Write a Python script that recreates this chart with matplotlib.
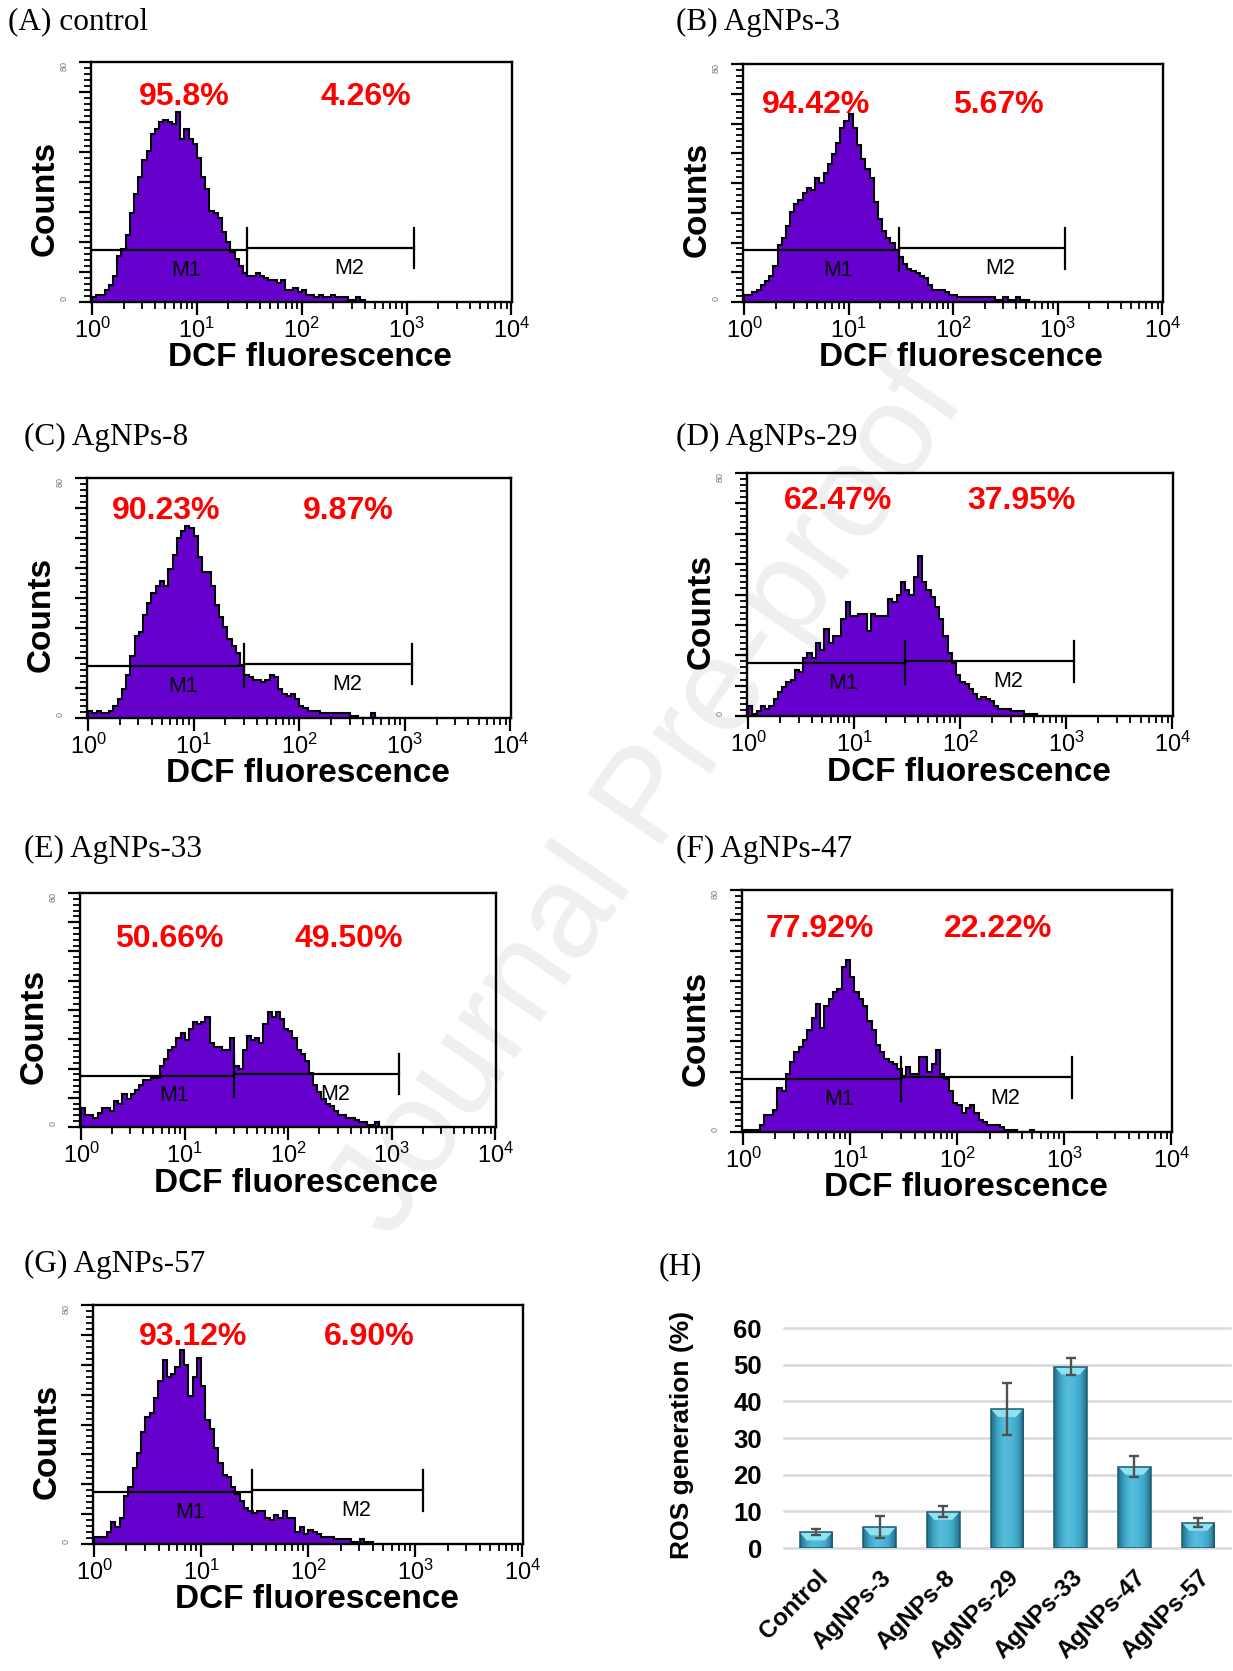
import numpy as np
import matplotlib
matplotlib.use('Agg')
import matplotlib.pyplot as plt
from matplotlib.ticker import MultipleLocator, AutoMinorLocator, LogLocator, NullFormatter
from matplotlib.colors import LinearSegmentedColormap
from matplotlib.patches import Polygon

plt.rcParams['font.family'] = ['Liberation Sans', 'DejaVu Sans']
plt.rcParams['mathtext.fontset'] = 'custom'
plt.rcParams['mathtext.rm'] = 'Liberation Sans'
plt.rcParams['mathtext.it'] = 'Liberation Sans:italic'
plt.rcParams['mathtext.bf'] = 'Liberation Sans:bold'

# ---------------- data ----------------
BIN_W = 0.04  # histogram channel width in log10 decades

HIST_A = [2, 3, 3, 5, 7, 11, 19, 22, 28, 37, 45, 52, 59, 63, 70, 72, 75, 76, 75, 74,
          79, 68, 72, 68, 66, 60, 52, 47, 38, 37, 35, 29, 25, 21, 18, 15, 12, 11, 11, 12,
          11, 10, 9, 9, 8, 9, 5, 5, 6, 4, 5, 3, 3, 2, 3, 2, 2, 3, 2, 2,
          2, 1, 1, 2, 1]
HIST_B = [3, 3, 4, 5, 7, 9, 11, 15, 24, 27, 32, 38, 41, 43, 46, 48, 47, 52, 50, 54,
          58, 62, 67, 73, 76, 79, 73, 66, 60, 56, 52, 42, 35, 30, 27, 25, 22, 19, 16, 14,
          13, 12, 11, 10, 7, 5, 5, 5, 4, 3, 3, 2, 2, 2, 2, 2, 2, 2, 2, 2,
          1, 1, 2, 1, 1, 2, 1, 1]
HIST_C = [3, 2, 3, 2, 2, 3, 5, 8, 12, 18, 26, 34, 36, 43, 48, 52, 55, 57, 55, 62,
          68, 75, 78, 80, 79, 76, 67, 61, 61, 55, 47, 42, 38, 33, 30, 27, 22, 18, 17, 16,
          16, 15, 16, 18, 17, 12, 10, 9, 10, 8, 5, 4, 3, 3, 3, 2, 2, 2, 2, 2,
          2, 2, 1, 1, 0, 0, 0, 2]
HIST_D = [4, 1, 2, 4, 3, 4, 7, 10, 12, 14, 15, 19, 18, 24, 26, 24, 30, 27, 36, 30,
          33, 33, 40, 47, 41, 41, 42, 42, 35, 42, 41, 41, 41, 48, 47, 50, 55, 52, 50, 57,
          66, 55, 52, 49, 45, 40, 33, 26, 22, 17, 14, 13, 11, 9, 7, 8, 7, 6, 4, 3,
          3, 3, 2, 2, 2, 1, 1, 1]
HIST_E = [8, 5, 5, 4, 6, 8, 8, 7, 11, 10, 14, 12, 14, 16, 18, 20, 20, 21, 21, 26,
          29, 33, 34, 38, 40, 37, 42, 45, 44, 45, 47, 36, 34, 34, 33, 33, 38, 26, 25, 33,
          39, 37, 38, 36, 44, 49, 47, 49, 46, 42, 41, 38, 33, 31, 28, 23, 18, 15, 12, 10,
          9, 7, 5, 5, 4, 4, 3, 2, 2, 1, 1, 2]
HIST_F = [1, 1, 1, 1, 3, 7, 7, 9, 18, 17, 24, 29, 33, 35, 38, 42, 47, 53, 43, 52,
          55, 58, 59, 68, 71, 64, 58, 55, 52, 46, 42, 36, 33, 30, 29, 28, 26, 23, 27, 24,
          24, 31, 31, 25, 28, 34, 24, 22, 17, 12, 11, 8, 10, 11, 8, 5, 4, 3, 3, 3,
          2, 1, 1, 1, 0, 0, 0, 1]
HIST_G = [3, 3, 3, 5, 9, 7, 11, 20, 24, 32, 38, 47, 53, 55, 61, 68, 77, 70, 71, 74,
          81, 75, 62, 70, 78, 66, 52, 48, 40, 34, 29, 28, 24, 21, 18, 15, 14, 13, 14, 14,
          11, 10, 12, 11, 14, 11, 11, 5, 7, 4, 6, 5, 4, 3, 3, 3, 2, 2, 2, 2,
          1, 1, 2, 1, 1]

PANEL_TITLES = ['(A) control', '(B) AgNPs-3', '(C) AgNPs-8', '(D) AgNPs-29',
                '(E) AgNPs-33', '(F) AgNPs-47', '(G) AgNPs-57']
PCT_M1 = ['95.8%', '94.42%', '90.23%', '62.47%', '50.66%', '77.92%', '93.12%']
PCT_M2 = ['4.26%', '5.67%', '9.87%', '37.95%', '49.50%', '22.22%', '6.90%']

GATE_SPLIT = 30.0     # M1 / M2 boundary (fluorescence units)
GATE_END = 1175.0     # end of M2

ROS_LABELS = ['Control', 'AgNPs-3', 'AgNPs-8', 'AgNPs-29', 'AgNPs-33', 'AgNPs-47', 'AgNPs-57']
ROS_VALUES = [4.26, 5.67, 9.87, 37.95, 49.50, 22.22, 6.90]
ROS_ERR = [0.8, 3.05, 1.5, 7.15, 2.4, 2.9, 1.2]

# ---------------- layout ----------------
W, H = 1233, 1671
fig = plt.figure(figsize=(W / 100, H / 100), dpi=100)
fig.patch.set_facecolor('white')

def fbox(l, t, r, b):
    return [l / W, 1 - b / H, (r - l) / W, (b - t) / H]

PURPLE = '#6600cc'

# watermark
fig.text(650 / W, 1 - 800 / H, 'Journal Pre-proof', rotation=55.6, fontsize=95,
         color='#efefef', ha='center', va='center', zorder=-10,
         rotation_mode='anchor')

BOXES = [(91, 62, 512, 302), (743, 64, 1163, 302), (87, 478, 511, 718),
         (747, 473, 1173, 716), (80, 893, 496, 1127), (742, 890, 1172, 1132),
         (93, 1305, 523, 1544)]
TITLE_POS = [(8, 22), (676, 22), (24, 437), (676, 437), (24, 849), (676, 849), (24, 1264)]
PCT_POS = [((0.876, 2.61), 85.6), ((0.69, 2.43), 82.7), ((0.74, 2.46), 86.3),
           ((0.85, 2.58), 88.5), ((0.85, 2.58), 80.5), ((0.72, 2.38), 84.0),
           ((0.92, 2.57), 86.7)]
HISTS = [HIST_A, HIST_B, HIST_C, HIST_D, HIST_E, HIST_F, HIST_G]

for i, vals in enumerate(HISTS):
    l, t, r, b = BOXES[i]
    ax = fig.add_axes(fbox(l, t, r, b))
    ax.set_facecolor('none')
    edges = 10 ** (BIN_W * np.arange(len(vals) + 1))
    ax.stairs(vals, edges, fill=True, color=PURPLE, lw=0, zorder=2)
    ax.stairs(vals, edges, color='black', lw=1.5, zorder=3)
    ax.set_xscale('log')
    ax.set_xlim(10 ** -0.01, 10 ** 4.005)
    ax.set_ylim(0, 100)
    for s in ax.spines.values():
        s.set_linewidth(1.7)
    ax.set_xticks([1, 10, 100, 1000, 10000])
    ax.set_xticklabels([r'$10^{0}$', r'$10^{1}$', r'$10^{2}$', r'$10^{3}$', r'$10^{4}$'])
    ax.xaxis.set_minor_locator(LogLocator(base=10, subs=np.arange(2, 10), numticks=20))
    ax.xaxis.set_minor_formatter(NullFormatter())
    ax.yaxis.set_major_locator(MultipleLocator(12.5))
    ax.yaxis.set_minor_locator(AutoMinorLocator(5))
    ax.tick_params(axis='both', which='major', direction='out', length=9, width=1.6,
                   labelsize=17, pad=2)
    ax.tick_params(axis='both', which='minor', direction='out', length=5, width=1.3)
    ax.tick_params(axis='y', labelleft=False)

    # gates
    y1, y2 = 21.7, 22.6
    ax.plot([10 ** -0.01, GATE_SPLIT], [y1, y1], color='black', lw=1.6, zorder=4)
    ax.plot([GATE_SPLIT, GATE_END], [y2, y2], color='black', lw=1.6, zorder=4)
    ax.plot([GATE_SPLIT, GATE_SPLIT], [13, 31], color='black', lw=1.6, zorder=4)
    ax.plot([GATE_END, GATE_END], [14, 31], color='black', lw=1.6, zorder=4)
    ax.text(10 ** 0.9, 13.3, 'M1', fontsize=15.5, ha='center', va='center', zorder=5)
    ax.text(10 ** 2.45, 14.0, 'M2', fontsize=15.5, ha='center', va='center', zorder=5)

    # percentages
    (xl, xr), yp = PCT_POS[i]
    ax.text(10 ** xl, yp, PCT_M1[i], color='#ff0000', fontsize=23, fontweight='bold',
            ha='center', va='center', zorder=6)
    ax.text(10 ** xr, yp, PCT_M2[i], color='#ff0000', fontsize=23, fontweight='bold',
            ha='center', va='center', zorder=6)

    # tiny y tick labels
    fig.text((l - 27) / W, 1 - (t + 4) / H, '80', rotation=90, fontsize=6.5,
             color='#777777', ha='center', va='center')
    fig.text((l - 27) / W, 1 - (b - 3) / H, '0', rotation=90, fontsize=6.5,
             color='#777777', ha='center', va='center')

    # axis labels
    fig.text((l - 46) / W, 1 - (b - 0.43 * (b - t)) / H, 'Counts', rotation=90,
             fontsize=24, fontweight='bold', ha='center', va='center')
    fig.text((l + 0.52 * (r - l)) / W, 1 - (b + 56) / H, 'DCF fluorescence',
             fontsize=24, fontweight='bold', ha='center', va='center')

    # panel title
    tx, ty = TITLE_POS[i]
    fig.text(tx / W, 1 - ty / H, PANEL_TITLES[i], fontsize=22.5,
             family=['Liberation Serif', 'DejaVu Serif'], ha='left', va='center')

# ---------------- panel H ----------------
fig.text(659 / W, 1 - 1267 / H, '(H)', fontsize=22.5,
         family=['Liberation Serif', 'DejaVu Serif'], ha='left', va='center')
axh = fig.add_axes(fbox(784, 1328, 1230, 1548))
axh.set_facecolor('none')
x = np.arange(len(ROS_LABELS))
bars = axh.bar(x, ROS_VALUES, width=0.51, color='#4ab3d3', lw=0, zorder=3)
cmap = LinearSegmentedColormap.from_list(
    'bev', ['#23708a', '#3fa6c6', '#55bddc', '#4fb8d8', '#3fa6c6', '#23708a'])
grad = np.linspace(0, 1, 64).reshape(1, -1)
for p in bars:
    x0, w, h = p.get_x(), p.get_width(), p.get_height()
    im = axh.imshow(grad, extent=[x0, x0 + w, 0, h], aspect='auto', cmap=cmap,
                    zorder=3.1, interpolation='bilinear')
    im.set_clip_path(p)
    bev = 2.2
    axh.add_patch(Polygon([[x0, h], [x0 + w, h], [x0 + w * 0.78, h - bev],
                           [x0 + w * 0.22, h - bev]], closed=True,
                          facecolor='#8fe1f3', edgecolor='none', zorder=3.2))
axh.bar(x, ROS_VALUES, width=0.51, fill=False, edgecolor='#1b5b70', lw=1.1, zorder=3.3)
axh.errorbar(x, ROS_VALUES, yerr=ROS_ERR, fmt='none', ecolor='#505050', elinewidth=1.7,
             capsize=3.4, capthick=1.7, zorder=4)
axh.set_ylim(0, 60)
axh.set_xlim(-0.5, 6.5)
yt = np.arange(0, 61, 10)
for v in yt:
    axh.axhline(v, color='#d9d9d9', lw=1.8, zorder=1, clip_on=False)
axh.set_yticks(yt)
axh.set_yticklabels([str(v) for v in yt], fontsize=18.5, fontweight='bold')
axh.set_xticks(x)
axh.set_xticklabels(ROS_LABELS, fontsize=17.5, fontweight='bold', rotation=45,
                    ha='right', rotation_mode='anchor')
axh.tick_params(axis='y', length=0, pad=16)
axh.tick_params(axis='x', length=0, pad=13)
for s in axh.spines.values():
    s.set_visible(False)
fig.text(682 / W, 1 - 1435 / H, 'ROS generation (%)', rotation=90, fontsize=19,
         fontweight='bold', ha='center', va='center')

fig.savefig('out.png', dpi=100)
